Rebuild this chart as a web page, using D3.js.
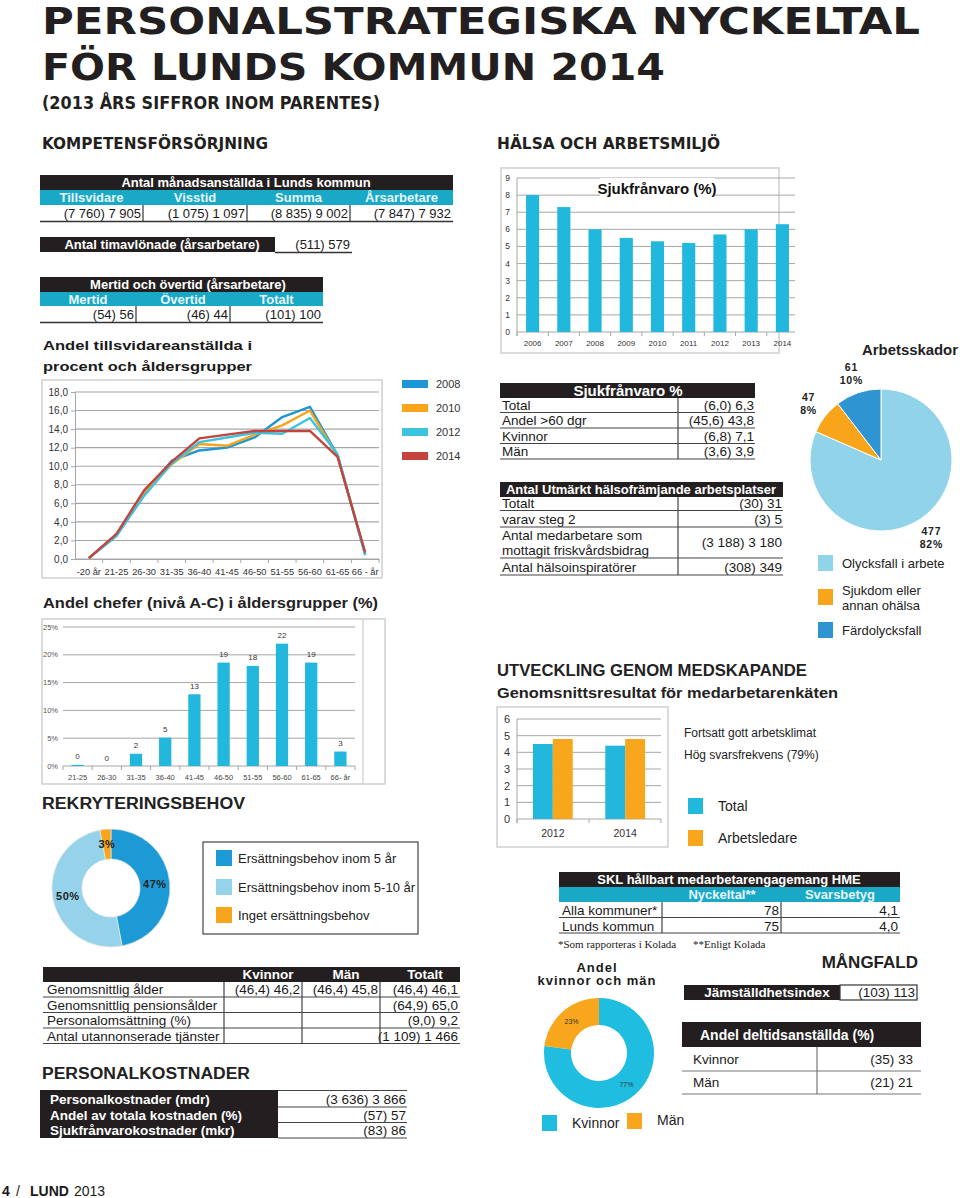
<!DOCTYPE html>
<html><head><meta charset="utf-8">
<script src="https://cdn.jsdelivr.net/npm/d3@7"></script>
<style>body{margin:0;background:#fff}svg{display:block;font-family:"Liberation Sans",Arial,sans-serif}</style>
</head><body>
<svg id="c" width="960" height="1198"></svg>
<script>
// ---------- DATA ----------
const staffHeaders = ["Tillsvidare","Visstid","Summa","Årsarbetare"];
const staffValues = ["(7 760) 7 905","(1 075) 1 097","(8 835) 9 002","(7 847) 7 932"];
const hourlyValue = "(511) 579";
const overtimeHeaders = ["Mertid","Övertid","Totalt"];
const overtimeValues = ["(54) 56","(46) 44","(101) 100"];

const ageGroups = ["-20 år","21-25","26-30","31-35","36-40","41-45","46-50","51-55","56-60","61-65","66 - år"];
const lineYears = ["2008","2010","2012","2014"];
const share2008 = [0.1,2.5,7.0,10.6,11.7,12.0,13.1,15.3,16.4,11.2,0.5];
const share2010 = [0.1,2.6,7.2,10.2,12.4,12.2,13.4,14.4,16.0,11.1,0.6];
const share2012 = [0.1,2.5,6.8,10.3,12.6,13.1,13.6,13.5,15.2,11.3,0.4];
const share2014 = [0.1,2.7,7.4,10.5,13.0,13.4,13.8,13.8,13.8,11.0,0.7];

const managerGroups = ["21-25","26-30","31-35","36-40","41-45","46-50","51-55","56-60","61-65","66-  år"];
const managerShare = [0.2,0,2.2,5.1,12.9,18.6,18.0,22.0,18.6,2.6];

const recruitLabels = ["Ersättningsbehov inom 5 år","Ersättningsbehov inom 5-10 år","Inget ersättningsbehov"];
const recruitShare = [47,50,3];

const ageRows = ["Genomsnittlig ålder","Genomsnittlig pensionsålder","Personalomsättning (%)","Antal utannonserade tjänster"];
const ageCols = ["Kvinnor","Män","Totalt"];
const ageWomen = ["(46,4) 46,2","","",""];
const ageMen = ["(46,4) 45,8","","",""];
const ageTotal = ["(46,4) 46,1","(64,9) 65,0","(9,0) 9,2","(1 109) 1 466"];

const costRows = ["Personalkostnader (mdr)","Andel av totala kostnaden (%)","Sjukfrånvarokostnader (mkr)"];
const costValues = ["(3 636) 3 866","(57) 57","(83) 86"];

const sickYears = ["2006","2007","2008","2009","2010","2011","2012","2013","2014"];
const sickRate = [8.0,7.3,6.0,5.5,5.3,5.2,5.7,6.0,6.3];

const sickRows = ["Total","Andel >60 dgr","Kvinnor","Män"];
const sickValues = ["(6,0) 6,3","(45,6) 43,8","(6,8) 7,1","(3,6) 3,9"];

const healthRows = ["Totalt","varav steg 2","Antal medarbetare som|mottagit friskvårdsbidrag","Antal hälsoinspiratörer"];
const healthValues = ["(30) 31","(3) 5","(3 188) 3 180","(308) 349"];

const injuryLabels = ["Olycksfall i arbete","Sjukdom eller|annan ohälsa","Färdolycksfall"];
const injuryCounts = [477,47,61];

const surveyYears = ["2012","2014"];
const surveyGroups = ["Total","Arbetsledare"];
const surveyTotal = [4.5,4.4];
const surveyLeaders = [4.8,4.8];

const hmeCols = ["Nyckeltal**","Svarsbetyg"];
const hmeRows = ["Alla kommuner*","Lunds kommun"];
const hmeIndex = ["78","75"];
const hmeGrade = ["4,1","4,0"];

const genderLabels = ["Kvinnor","Män"];
const genderShare = [77,23];
const equalityIndex = "(103) 113";
const partTimeRows = ["Kvinnor","Män"];
const partTimeValues = ["(35) 33","(21) 21"];

// ---------- HELPERS ----------
const svg = d3.select("#c");
const BLACK="#231f20", TEAL="#1aa8c7", CYAN="#22b7dd", ORANGE="#f8a61c", GRID="#a6a6a6", BOX="#cfcfcf";
function txt(x,y,s,o={}){
  const t=svg.append("text").attr("x",x).attr("y",y).text(s)
    .attr("font-size",o.size||13).attr("font-weight",o.bold?"bold":"normal")
    .attr("fill",o.fill||"#1a1a1a").attr("text-anchor",o.anchor||"start")
    .attr("dominant-baseline",o.base||"central");
  if(o.ls) t.attr("letter-spacing",o.ls);
  if(o.len) t.attr("textLength",o.len).attr("lengthAdjust","spacingAndGlyphs");
  if(o.family) t.attr("font-family",o.family);
  return t;
}
function rect(x,y,w,h,fill,stroke,sw){
  return svg.append("rect").attr("x",x).attr("y",y).attr("width",w).attr("height",h)
    .attr("fill",fill||"none").attr("stroke",stroke||"none").attr("stroke-width",sw||1);
}
function ln(x1,y1,x2,y2,c,w){
  return svg.append("line").attr("x1",x1).attr("y1",y1).attr("x2",x2).attr("y2",y2)
    .attr("stroke",c||"#333").attr("stroke-width",w||1);
}

// ---------- TITLES ----------
const TF='"DejaVu Sans Condensed","DejaVu Sans",sans-serif';
txt(42,34,"PERSONALSTRATEGISKA NYCKELTAL",{size:37,bold:true,len:878,fill:BLACK,family:TF,base:"alphabetic"});
txt(42,80,"FÖR LUNDS KOMMUN 2014",{size:37,bold:true,len:623,fill:BLACK,family:TF,base:"alphabetic"});
txt(42,103,"(2013 ÅRS SIFFROR INOM PARENTES)",{size:17,bold:true,len:338,fill:BLACK,family:TF});
txt(42,144,"KOMPETENSFÖRSÖRJNING",{size:15.5,bold:true,len:226,fill:BLACK,family:TF});
txt(497,144,"HÄLSA OCH ARBETSMILJÖ",{size:15.5,bold:true,len:223,fill:BLACK,family:TF});

// ---------- TABLE 1 ----------
const t1cols=[40,143,247,350,453];
rect(40,175,413,15,BLACK);
txt(246,182.5,"Antal månadsanställda i Lunds kommun",{size:13,bold:true,fill:"#fff",anchor:"middle"});
rect(40,190,413,15,TEAL);
staffHeaders.forEach((h,i)=>{
  txt((t1cols[i]+t1cols[i+1])/2,197.5,h,{size:13,bold:true,fill:"#e8f7fb",anchor:"middle"});
  txt(t1cols[i+1]-2,213.5,staffValues[i],{size:13,anchor:"end"});
  if(i>0) ln(t1cols[i],205,t1cols[i],221,"#333",1.2);
});
ln(40,221.5,453,221.5,"#333",1.5);

rect(40,237,235,15,BLACK);
txt(162,244.5,"Antal timavlönade (årsarbetare)",{size:13,bold:true,fill:"#fff",anchor:"middle"});
txt(350,244.5,hourlyValue,{size:13,anchor:"end"});
ln(275,252.5,352,252.5,"#333",1.5);

const t3cols=[40,136,230,323];
rect(40,277,283,15,BLACK);
txt(188,284.5,"Mertid och övertid (årsarbetare)",{size:13,bold:true,fill:"#fff",anchor:"middle"});
rect(40,292,283,14,TEAL);
overtimeHeaders.forEach((h,i)=>{
  txt((t3cols[i]+t3cols[i+1])/2,299,h,{size:13,bold:true,fill:"#e8f7fb",anchor:"middle"});
  txt(t3cols[i+1]-2,314,overtimeValues[i],{size:13,anchor:"end"});
  if(i>0) ln(t3cols[i],306,t3cols[i],322,"#333",1.2);
});
ln(40,322.5,323,322.5,"#333",1.5);

// ---------- LINE CHART ----------
txt(43,345,"Andel tillsvidareanställda i",{size:13.5,bold:true,len:209});
txt(43,366,"procent och åldersgrupper",{size:13.5,bold:true,len:209});
rect(42,380,340,198,"#fff",BOX,1.5);
const xL=d3.scaleBand().domain(ageGroups).range([75,379]);
const yL=d3.scaleLinear().domain([0,18]).range([559,392]);
const fmt1=d=>d3.format(".1f")(d).replace(".",",");
svg.append("g").selectAll("line").data(d3.range(0,19,2)).join("line")
  .attr("x1",75).attr("x2",379).attr("y1",d=>yL(d)).attr("y2",d=>yL(d))
  .attr("stroke",GRID).attr("stroke-width",1.1);
const axL=svg.append("g").attr("transform","translate(75,0)")
  .call(d3.axisLeft(yL).tickValues(d3.range(0,19,2)).tickFormat(fmt1).tickSize(4).tickPadding(3));
axL.select(".domain").attr("stroke",GRID);
axL.selectAll(".tick line").attr("stroke",GRID);
axL.selectAll("text").attr("font-size",10).attr("fill","#333").attr("font-family",'"Liberation Sans",Arial');
const axLx=svg.append("g").attr("transform","translate(0,559)")
  .call(d3.axisBottom(xL).tickSize(0).tickPadding(9));
axLx.select(".domain").attr("stroke",GRID);
axLx.selectAll("text").attr("font-size",9.3).attr("fill","#333").attr("font-family",'"Liberation Sans",Arial');
ageGroups.forEach((a,i)=>{ if(i>0){ const bx=xL(a); ln(bx,559,bx,563,GRID,1);} });
ln(379,559,379,563,GRID,1);
const seriesL=[share2008,share2010,share2012,share2014];
const colorsL=["#1a97d4","#f8a51c","#3cc3de","#c4433c"];
const lineGen=d3.line().x((d,i)=>xL(ageGroups[i])+xL.bandwidth()/2).y(d=>yL(d));
seriesL.forEach((s,k)=>{
  svg.append("path").attr("d",lineGen(s)).attr("fill","none")
    .attr("stroke",colorsL[k]).attr("stroke-width",2.4).attr("stroke-linejoin","round");
});
const legY=[384,408,432,456];
lineYears.forEach((y,k)=>{
  rect(402,legY[k]-4,26,8,colorsL[k]);
  txt(436,legY[k],y,{size:11,fill:"#333"});
});

// ---------- MANAGERS BAR CHART ----------
txt(43,603,"Andel chefer (nivå A-C) i åldersgrupper (%)",{size:14,bold:true,len:335,fill:"#222"});
rect(42,619,343,165,"#fff",BOX,1.5);
ln(363,619,363,784,BOX,1.2);
const xM=d3.scaleBand().domain(managerGroups).range([63,355]).paddingInner(0.58).paddingOuter(0.29);
const yM=d3.scaleLinear().domain([0,25]).range([766,627]);
svg.append("g").selectAll("line").data(d3.range(0,26,5)).join("line")
  .attr("x1",63).attr("x2",355).attr("y1",d=>yM(d)).attr("y2",d=>yM(d))
  .attr("stroke",GRID).attr("stroke-width",1);
d3.range(0,26,5).forEach(v=>txt(58,yM(v),v+"%",{size:7.5,fill:"#555",anchor:"end"}));
svg.append("g").selectAll("rect").data(managerShare).join("rect")
  .attr("x",(d,i)=>xM(managerGroups[i])).attr("width",xM.bandwidth())
  .attr("y",d=>yM(d)).attr("height",d=>yM(0)-yM(d)).attr("fill",CYAN);
managerShare.forEach((d,i)=>{
  const cx=xM(managerGroups[i])+xM.bandwidth()/2;
  txt(cx,yM(d)-8,d3.format(".0f")(d),{size:8,fill:"#333",anchor:"middle"});
  txt(cx,777,managerGroups[i],{size:7.5,fill:"#444",anchor:"middle"});
  const bx=xM(managerGroups[i])-xM.step()*xM.paddingInner()/2;
  if(i>0) ln(bx,766,bx,770,GRID,1);
});
ln(63,766,63,770,GRID,1);ln(355,766,355,770,GRID,1);

// ---------- REKRYTERINGSBEHOV ----------
txt(42,803,"REKRYTERINGSBEHOV",{size:16,bold:true,len:203,fill:"#222"});
const recColors=["#1c9ad6","#95d3ea","#f8a51c"];
const pieR=d3.pie().sort(null).value(d=>d)(recruitShare);
const arcR=d3.arc().innerRadius(29).outerRadius(59);
const gR=svg.append("g").attr("transform","translate(111,888)");
gR.selectAll("path").data(pieR).join("path").attr("d",arcR)
  .attr("fill",(d,i)=>recColors[i]).attr("stroke","#e8e8e8").attr("stroke-width",0.7);
pieR.forEach(d=>{const c=arcR.centroid(d);
  gR.append("text").attr("x",c[0]).attr("y",c[1]).text(d.data+"%")
   .attr("font-size",11).attr("font-weight","bold").attr("fill","#222")
   .attr("text-anchor","middle").attr("dominant-baseline","central").attr("letter-spacing",0.5);});
rect(203,842,215,92,"#fff","#444",1.2);
const recLegY=[858,887,915];
recruitLabels.forEach((l,i)=>{
  rect(216,recLegY[i]-8,16,16,recColors[i]);
  txt(238,recLegY[i],l,{size:13,fill:"#222"});
});

// ---------- AGE TABLE ----------
const atCols=[224,302,380,460];
rect(43,967,417,15,BLACK);
ageCols.forEach((c,i)=>txt((atCols[i]+atCols[i+1])/2+5,974.5,c,{size:13.5,bold:true,fill:"#fff",anchor:"middle"}));
const atY=[989.5,1005,1020.5,1036];
const atLines=[997,1012.5,1028,1043.5];
ageRows.forEach((r,i)=>{
  txt(47,atY[i],r,{size:13.5});
  [ageWomen,ageMen,ageTotal].forEach((col,j)=>{
    if(col[i]) txt(atCols[j+1]-2,atY[i],col[i],{size:13.5,anchor:"end"});
  });
  ln(43,atLines[i],460,atLines[i],"#444",1.2);
});
[224,302,380].forEach(x=>ln(x,982,x,1043.5,"#444",1.2));

// ---------- PERSONALKOSTNADER ----------
txt(42,1073,"PERSONALKOSTNADER",{size:16,bold:true,len:208,fill:"#222"});
rect(40,1090,238,48,BLACK);
const ctY=[1099,1115,1130];
const ctLines=[1090.5,1107,1122.5,1138];
costRows.forEach((r,i)=>{
  txt(50,ctY[i],r,{size:13.5,bold:true,fill:"#fff"});
  txt(406,ctY[i],costValues[i],{size:13.5,anchor:"end"});
});
ctLines.forEach(y=>ln(278,y,407,y,"#444",1.2));

// footer
txt(2,1191,"4",{size:14,bold:true});
txt(16,1191,"/",{size:14});
txt(30,1191,"LUND",{size:14,bold:true});
txt(74,1191,"2013",{size:14});

// ---------- SJUKFRÅNVARO BAR ----------
rect(501,168,278,185,"#fff",BOX,1.5);
const xS=d3.scaleBand().domain(sickYears).range([517,798]).paddingInner(0.58).paddingOuter(0.29);
const yS=d3.scaleLinear().domain([0,9]).range([332,178]);
svg.append("g").selectAll("line").data(d3.range(0,10)).join("line")
  .attr("x1",517).attr("x2",795).attr("y1",d=>yS(d)).attr("y2",d=>yS(d))
  .attr("stroke",GRID).attr("stroke-width",1);
d3.range(0,10).forEach(v=>txt(510,yS(v),v,{size:8.5,fill:"#333",anchor:"end"}));
svg.append("g").selectAll("rect").data(sickRate).join("rect")
  .attr("x",(d,i)=>xS(sickYears[i])).attr("width",xS.bandwidth())
  .attr("y",d=>yS(d)).attr("height",d=>yS(0)-yS(d)).attr("fill",CYAN);
sickYears.forEach((y,i)=>{
  txt(xS(y)+xS.bandwidth()/2,343,y,{size:8,fill:"#333",anchor:"middle"});
  const bx=xS(y)-xS.step()*xS.paddingInner()/2;
  ln(bx,332,bx,336,GRID,1);
});
ln(517,178,517,336,GRID,1);
rect(600,178,115,20,"#fff");
txt(657,188,"Sjukfrånvaro (%)",{size:15,bold:true,anchor:"middle",fill:"#111"});

// ---------- SJUKFRÅNVARO TABLE ----------
rect(500,383,255,15,BLACK);
txt(628,390.5,"Sjukfrånvaro %",{size:15,bold:true,fill:"#fff",anchor:"middle"});
const stY=[405,420.5,436,451.5];
const stL=[412.5,428,443.5,459];
sickRows.forEach((r,i)=>{
  txt(502,stY[i],r,{size:13.5});
  txt(754,stY[i],sickValues[i],{size:13.5,anchor:"end"});
  ln(500,stL[i],755,stL[i],"#444",1.2);
});
ln(678,398,678,459,"#444",1.2);

rect(500,482,283,15,BLACK);
txt(641,489.5,"Antal Utmärkt hälsofrämjande arbetsplatser",{size:13,bold:true,fill:"#fff",anchor:"middle"});
const htY=[503,519,542,567];
const htL=[510.5,527,558,575];
healthRows.forEach((r,i)=>{
  const parts=r.split("|");
  if(parts.length>1){ txt(502,535,parts[0],{size:13.5}); txt(502,550,parts[1],{size:13.5}); }
  else txt(502,htY[i],r,{size:13.5});
  txt(782,htY[i],healthValues[i],{size:13.5,anchor:"end"});
  ln(500,htL[i],783,htL[i],"#444",1.2);
});
ln(678,497,678,575,"#444",1.2);

// ---------- ARBETSSKADOR PIE ----------
txt(862,350,"Arbetsskador",{size:14.5,bold:true,len:96,fill:"#222"});
const injColors=["#91d4ea","#f8a51c","#2f95d2"];
const injTotal=d3.sum(injuryCounts);
const pieI=d3.pie().sort(null).value(d=>d)(injuryCounts);
const arcI=d3.arc().innerRadius(0).outerRadius(71);
const arcIL=d3.arc().innerRadius(92).outerRadius(92);
const gI=svg.append("g").attr("transform","translate(881,460)");
gI.selectAll("path").data(pieI).join("path").attr("d",arcI)
  .attr("fill",(d,i)=>injColors[i]).attr("stroke","#fff").attr("stroke-width",1);
pieI.forEach(d=>{const c=arcIL.centroid(d);
  [String(d.data),Math.round(d.data/injTotal*100)+"%"].forEach((s,j)=>{
   gI.append("text").attr("x",c[0]).attr("y",c[1]-6+j*13).text(s)
    .attr("font-size",10.5).attr("font-weight","bold").attr("fill","#222")
    .attr("text-anchor","middle").attr("dominant-baseline","central").attr("letter-spacing",0.8);});});
const injLegY=[563,597,630];
injuryLabels.forEach((l,i)=>{
  rect(818,injLegY[i]-8,15,16,injColors[i]);
  const p=l.split("|");
  if(p.length>1){ txt(842,injLegY[i]-7,p[0],{size:13,fill:"#222"}); txt(842,injLegY[i]+8,p[1],{size:13,fill:"#222"}); }
  else txt(842,injLegY[i],l,{size:13,fill:"#222"});
});

// ---------- UTVECKLING ----------
txt(497,670,"UTVECKLING GENOM MEDSKAPANDE",{size:17,bold:true,len:310,fill:"#222"});
txt(497,693,"Genomsnittsresultat för medarbetarenkäten",{size:14.5,bold:true,len:341,fill:"#222"});
rect(497,707,171,140,"#fff",BOX,1.5);
const x0=d3.scaleBand().domain(surveyYears).range([517,661]).paddingInner(0.45).paddingOuter(0.22);
const x1=d3.scaleBand().domain(surveyGroups).range([0,x0.bandwidth()]);
const yU=d3.scaleLinear().domain([0,6]).range([819,719]);
svg.append("g").selectAll("line").data(d3.range(0,7)).join("line")
  .attr("x1",517).attr("x2",661).attr("y1",d=>yU(d)).attr("y2",d=>yU(d))
  .attr("stroke",GRID).attr("stroke-width",1);
d3.range(0,7).forEach(v=>txt(507,yU(v),v,{size:11,fill:"#333",anchor:"middle"}));
const surveySeries=[surveyTotal,surveyLeaders];
const surveyColors=[CYAN,ORANGE];
surveySeries.forEach((s,k)=>{
  svg.append("g").selectAll("rect").data(s).join("rect")
    .attr("x",(d,i)=>x0(surveyYears[i])+x1(surveyGroups[k])).attr("width",x1.bandwidth())
    .attr("y",d=>yU(d)).attr("height",d=>yU(0)-yU(d)).attr("fill",surveyColors[k]);
});
surveyYears.forEach(y=>txt(x0(y)+x0.bandwidth()/2,833,y,{size:10.5,fill:"#333",anchor:"middle"}));
[517,589,661].forEach(x=>ln(x,819,x,823,GRID,1));
ln(517,719,517,823,GRID,1);
txt(684,733,"Fortsatt gott arbetsklimat",{size:12,fill:"#222"});
txt(684,755,"Hög svarsfrekvens (79%)",{size:12,fill:"#222"});
const svLegY=[806,838];
surveyGroups.forEach((g,i)=>{
  rect(688,svLegY[i]-8,15,16,surveyColors[i]);
  txt(718,svLegY[i],g,{size:14,fill:"#222"});
});

// ---------- SKL TABLE ----------
rect(559,872,341,15,BLACK);
txt(729,879.5,"SKL hållbart medarbetarengagemang HME",{size:13,bold:true,fill:"#fff",anchor:"middle"});
rect(559,887,341,15,TEAL);
txt(722,894.5,hmeCols[0],{size:13,bold:true,fill:"#e8f7fb",anchor:"middle"});
txt(840,894.5,hmeCols[1],{size:13,bold:true,fill:"#e8f7fb",anchor:"middle"});
const hY=[910.5,926];const hL=[917.5,933];
hmeRows.forEach((r,i)=>{
  txt(562,hY[i],r,{size:13.5});
  txt(779,hY[i],hmeIndex[i],{size:13.5,anchor:"end"});
  txt(898,hY[i],hmeGrade[i],{size:13.5,anchor:"end"});
  ln(559,hL[i],900,hL[i],"#444",1.2);
});
ln(662,902,662,933,"#444",1.2);ln(781,902,781,933,"#444",1.2);
txt(558,944,"*Som rapporteras i Kolada",{size:11,family:'"Liberation Serif",serif'});
txt(693,944,"**Enligt Kolada",{size:11,family:'"Liberation Serif",serif'});

// ---------- GENDER DONUT ----------
txt(597,967,"Andel",{size:13,bold:true,anchor:"middle",ls:1});
txt(597,980,"kvinnor och män",{size:13,bold:true,anchor:"middle",ls:1});
const gColors=["#1fbde0",ORANGE];
const pieG=d3.pie().sort(null).value(d=>d)(genderShare);
const arcG=d3.arc().innerRadius(28).outerRadius(55);
const gG=svg.append("g").attr("transform","translate(599,1053)");
gG.selectAll("path").data(pieG).join("path").attr("d",arcG).attr("fill",(d,i)=>gColors[i]);
pieG.forEach(d=>{const c=arcG.centroid(d);
  gG.append("text").attr("x",c[0]).attr("y",c[1]).text(d.data+"%").attr("font-size",7)
   .attr("fill","#333").attr("text-anchor","middle").attr("dominant-baseline","central");});
rect(542,1115,15,16,gColors[0]); txt(572,1123,genderLabels[0],{size:14,fill:"#222"});
rect(627,1113,15,16,gColors[1]); txt(657,1120,genderLabels[1],{size:14,fill:"#222"});

// ---------- MÅNGFALD ----------
txt(918,962,"MÅNGFALD",{size:17,bold:true,anchor:"end",fill:"#222"});
rect(684,985,156,15,BLACK);
txt(767,992.5,"Jämställdhetsindex",{size:13.5,bold:true,fill:"#fff",anchor:"middle"});
rect(840,985,77,15,"#fff","#333",1.2);
txt(915,992.5,equalityIndex,{size:13.5,anchor:"end"});
rect(682,1022,239,25,BLACK);
txt(700,1035,"Andel deltidsanställda (%)",{size:14,bold:true,fill:"#fff"});
const pY=[1059,1082];const pL=[1071,1094];
partTimeRows.forEach((r,i)=>{
  txt(693,pY[i],r,{size:13.5});
  txt(913,pY[i],partTimeValues[i],{size:13.5,anchor:"end"});
  ln(682,pL[i],921,pL[i],"#777",1.2);
});
ln(817,1047,817,1094,"#777",1.2);
</script>
</body></html>
